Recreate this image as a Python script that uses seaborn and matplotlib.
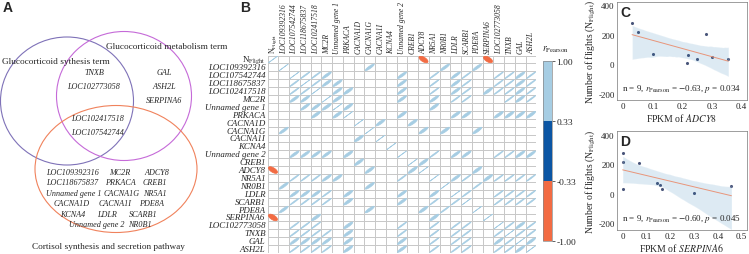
import numpy as np
import pandas as pd
import matplotlib
matplotlib.use('Agg')
import matplotlib.pyplot as plt
import seaborn as sns
from matplotlib.colors import ListedColormap, BoundaryNorm
from matplotlib.cm import ScalarMappable
from matplotlib.patches import Ellipse

# genes of the correlation matrix (row / column order)
genes = ['N_Flight', 'LOC109392316', 'LOC107542744', 'LOC118675837', 'LOC102417518',
         'MC2R', 'Unnamed gene 1', 'PRKACA', 'CACNA1D', 'CACNA1G', 'CACNA1I', 'KCNA4',
         'Unnamed gene 2', 'CREB1', 'ADCY8', 'NR5A1', 'NR0B1', 'LDLR', 'SCARB1', 'PDE8A',
         'SERPINA6', 'LOC102773058', 'TNXB', 'GAL', 'ASH2L']

# significant pairs (index into genes) and their Pearson r
pair_i = [0, 0,
          1, 1, 1,
          2, 2, 2, 2, 2, 2, 2, 2, 2, 2, 2,
          3, 3, 3, 3, 3, 3, 3, 3, 3, 3, 3,
          4, 4, 4, 4, 4, 4, 4, 4, 4, 4, 4,
          5, 5, 5, 5, 5, 5, 5, 5,
          6, 6,
          7, 7, 7, 7, 7, 7, 7,
          8, 8,
          9, 9, 9,
          12, 12, 12, 12, 12, 12, 12,
          13, 14,
          15, 15, 15, 15, 15, 15, 15,
          16,
          17, 17, 17, 17, 17,
          18, 18, 18, 18,
          21, 21, 21, 22, 22, 23]
pair_j = [14, 20,
          9, 16, 19,
          3, 4, 5, 12, 15, 17, 18, 21, 22, 23, 24,
          4, 5, 6, 12, 15, 17, 18, 21, 22, 23, 24,
          6, 7, 12, 15, 17, 18, 20, 21, 22, 23, 24,
          6, 12, 15, 17, 18, 22, 23, 24,
          7, 15,
          12, 17, 18, 21, 22, 23, 24,
          10, 13,
          14, 16, 19,
          15, 17, 18, 21, 22, 23, 24,
          14, 19,
          17, 18, 20, 21, 22, 23, 24,
          19,
          18, 21, 22, 23, 24,
          21, 22, 23, 24,
          22, 23, 24, 23, 24, 24]
pair_r = [-0.63, -0.60,
          0.90, 0.90, 0.90,
          0.98, 0.98, 0.90, 0.90, 0.98, 0.90, 0.98, 0.98, 0.98, 0.90, 0.98,
          0.98, 0.90, 0.90, 0.90, 0.98, 0.90, 0.98, 0.98, 0.98, 0.90, 0.98,
          0.90, 0.88, 0.90, 0.98, 0.90, 0.98, 0.88, 0.98, 0.98, 0.90, 0.98,
          0.88, 0.90, 0.90, 0.98, 0.98, 0.98, 0.90, 0.98,
          0.88, 0.88,
          0.88, 0.88, 0.88, 0.88, 0.88, 0.88, 0.88,
          0.88, 0.88,
          0.88, 0.88, 0.88,
          0.98, 0.90, 0.90, 0.98, 0.98, 0.90, 0.90,
          0.88, 0.88,
          0.90, 0.98, 0.88, 0.98, 0.98, 0.98, 0.98,
          0.98,
          0.98, 0.98, 0.98, 0.98, 0.98,
          0.98, 0.98, 0.98, 0.98,
          0.98, 0.90, 0.98, 0.98, 0.98, 0.90]

# panel C / D scatter data
n_flight = [278, 218, 73, 7, 62, 33, 207, 49, 33]
fpkm_adcy8 = [0.03, 0.05, 0.10, 0.215, 0.22, 0.25, 0.28, 0.30, 0.355]
fpkm_serpina6 = [0.0, 0.0, 0.143, 0.30, 0.157, 0.164, 0.069, 0.457, 0.0]

# venn diagram contents
venn_synth_metab = ['TNXB', 'LOC102773058']
venn_metab_only = ['GAL', 'ASH2L', 'SERPINA6']
venn_all_three = ['LOC102417518', 'LOC107542744']
venn_cortisol = [['LOC109392316', 'MC2R', 'ADCY8'],
                 ['LOC118675837', 'PRKACA', 'CREB1'],
                 ['Unnamed gene 1', 'CACNA1G', 'NR5A1'],
                 ['CACNA1D', 'CACNA1I', 'PDE8A'],
                 ['KCNA4', 'LDLR', 'SCARB1'],
                 ['Unnamed gene 2', 'NR0B1']]

sns.set_style('white')
plt.rcParams['font.family'] = ['Liberation Serif', 'DejaVu Serif']
plt.rcParams['mathtext.fontset'] = 'stix'
plt.rcParams['axes.unicode_minus'] = False

RED = '#f26b43'
DARK = '#0b56a4'
LIGHT = '#a6cde3'

fig = plt.figure(figsize=(7.49, 2.55), dpi=100)

# ---------------- A: venn ----------------
vax = fig.add_axes([0, 0, 245 / 749, 1])
vax.set_xlim(0, 245)
vax.set_ylim(255, 0)
vax.axis('off')
vax.add_patch(Ellipse((67, 102), 133, 128, fill=False, ec='#7f72b8', lw=0.8))
vax.add_patch(Ellipse((124, 97), 135, 129, fill=False, ec='#c56ad8', lw=0.8))
vax.add_patch(Ellipse((116, 170), 162, 127, fill=False, ec='#f0825c', lw=0.8))

gfs = 5.9
vax.text(2, 62, 'Glucocorticoid sythesis term', fontsize=6.7, ha='left', va='center')
vax.text(167, 47, 'Glucocorticoid metabolism term', fontsize=6.7, ha='center', va='center')
for k, g in enumerate(venn_synth_metab):
    vax.text(94, 73 + 14 * k, g, fontsize=gfs, style='italic', ha='center', va='center')
for k, g in enumerate(venn_metab_only):
    vax.text(164, 73 + 14 * k, g, fontsize=gfs, style='italic', ha='center', va='center')
for k, g in enumerate(venn_all_three):
    vax.text(98, 119 + 14 * k, g, fontsize=gfs, style='italic', ha='center', va='center')
row_x = [[73, 120, 157], [72, 120, 155], [74, 122, 155],
         [72, 115, 152], [73, 107, 143], [97, 140]]
for k, row in enumerate(venn_cortisol):
    for m, g in enumerate(row):
        vax.text(row_x[k][m], 173 + 10.5 * k, g, fontsize=gfs, style='italic',
                 ha='center', va='center')
vax.text(108, 247, 'Cortisol synthesis and secretion pathway', fontsize=6.7,
         ha='center', va='center')

# ---------------- B: correlation ellipses ----------------
n = len(genes)
corr = np.eye(n)
for a, b, r in zip(pair_i, pair_j, pair_r):
    corr[a, b] = r
    corr[b, a] = r

labels = [r'N$_{\mathrm{Flight}}$'] + genes[1:]
grid = pd.DataFrame(np.zeros((n, n)), index=labels, columns=labels)
cmap = ListedColormap([RED, DARK, LIGHT])
norm = BoundaryNorm([-1, -0.33, 0.33, 1], 3)

bax = fig.add_axes([267.6 / 749, 1 - 254 / 255, 268.8 / 749, 197.5 / 255])
sns.heatmap(grid, ax=bax, cmap=ListedColormap(['white']), cbar=False,
            linewidths=0.6, linecolor='#c8c8c8', xticklabels=True, yticklabels=True)
bax.xaxis.tick_top()
bax.tick_params(length=0, pad=1.5)
bax.set_xticklabels(labels, rotation=90, fontsize=5.5)
bax.set_yticklabels(labels, rotation=0, fontsize=6.4)
for lab in bax.get_xticklabels()[1:] + bax.get_yticklabels()[1:]:
    lab.set_fontstyle('italic')

t = np.linspace(0, 2 * np.pi, 60)
for a in range(n):
    for b in range(n):
        r = corr[a, b]
        if abs(r) < 0.33:
            continue
        d = np.arccos(np.clip(r, -1, 1))
        ex = 0.42 * np.cos(t + d / 2)
        ey = 0.42 * np.cos(t - d / 2)
        c = cmap(norm(r))
        bax.fill(b + 0.5 + ex, a + 0.5 - ey, facecolor=c, edgecolor=c, lw=0.5)
for s in bax.spines.values():
    s.set_visible(False)

cax = fig.add_axes([543 / 749, 1 - 242 / 255, 9 / 749, 180 / 255])
cb = fig.colorbar(ScalarMappable(norm=norm, cmap=cmap), cax=cax,
                  ticks=[-1, -0.33, 0.33, 1])
cb.set_ticklabels(['-1.00', '-0.33', '0.33', '1.00'])
cb.ax.tick_params(labelsize=6.8, length=2, width=0.5, pad=1)
cb.outline.set_linewidth(0.5)
cb.outline.set_edgecolor('#888888')
fig.text(542 / 749, 1 - 50 / 255, r'$r_{\mathrm{Pearson}}$', fontsize=7, ha='left', va='center')

# ---------------- C & D: regression ----------------
def reg_panel(rect, xvals, xlim, ylim, xticks, xname, letter, note):
    ax = fig.add_axes(rect)
    sns.regplot(x=xvals, y=n_flight, ax=ax, ci=95, seed=0, color='#1f77b4',
                scatter_kws=dict(s=5, color='#1c2a59', linewidths=0),
                line_kws=dict(lw=0.7))
    ax.lines[0].set_color('#e8957a')
    ax.set_xlim(*xlim)
    ax.set_ylim(*ylim)
    ax.set_xticks(xticks)
    ax.set_xticklabels(['0'] + [f'{v:g}' for v in xticks[1:]])
    ax.set_yticks([-200, 0, 200, 400])
    ax.set_yticklabels(['-200', '0', '200', '400'])
    ax.tick_params(labelsize=6.5, length=0, pad=1.5)
    for s in ax.spines.values():
        s.set_linewidth(0.5)
        s.set_color('#777777')
    ax.set_xlabel(r'FPKM of $\mathit{' + xname + '}$', fontsize=7, labelpad=1)
    ax.set_ylabel(r'Number of flights (N$_{\mathrm{Flight}}$)', fontsize=7, labelpad=1)
    ax.text(0.03, 0.97, letter, transform=ax.transAxes, fontsize=10, weight='bold',
            family='Liberation Sans', ha='left', va='top')
    ax.text(0.5, 0.06, note, transform=ax.transAxes, fontsize=6.5, ha='center', va='bottom')
    return ax

reg_panel([616.7 / 749, 1 - 101 / 255, 130 / 749, 97.7 / 255], fpkm_adcy8,
          (-0.022, 0.417), (-240, 418), [0, 0.1, 0.2, 0.3, 0.4], 'ADCY8', 'C',
          r'n = 9, $r_{\mathrm{Pearson}}$ = $-$0.63, $p$ = 0.034')
reg_panel([616.7 / 749, 1 - 231 / 255, 130 / 749, 98.7 / 255], fpkm_serpina6,
          (-0.025, 0.521), (-246, 423), [0, 0.1, 0.2, 0.3, 0.4, 0.5], 'SERPINA6', 'D',
          r'n = 9, $r_{\mathrm{Pearson}}$ = $-$0.60, $p$ = 0.045')

fig.text(3 / 749, 1 - 8 / 255, 'A', fontsize=10, weight='bold', family='Liberation Sans',
         ha='left', va='center')
fig.text(240 / 749, 1 - 8 / 255, 'B', fontsize=10, weight='bold', family='Liberation Sans',
         ha='left', va='center')

fig.savefig('out.png', dpi=100)
